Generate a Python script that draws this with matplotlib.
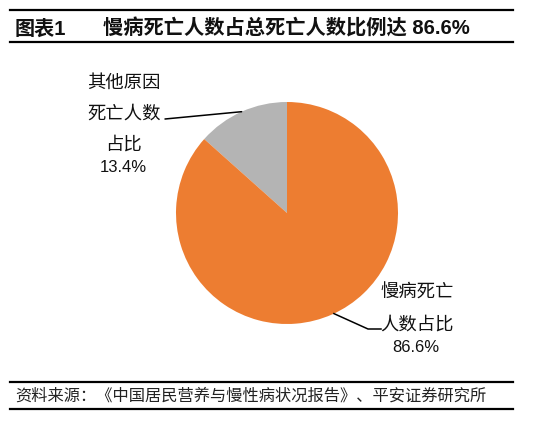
import matplotlib
matplotlib.use("Agg")
import matplotlib.pyplot as plt
from matplotlib.lines import Line2D
import numpy as np

plt.rcParams['font.family'] = ['Liberation Sans', 'Noto Sans CJK SC', 'DejaVu Sans']

categories = ["其他原因死亡人数占比", "慢病死亡人数占比"]
values = [13.4, 86.6]
colors = ["#B4B4B4", "#ED7D31"]
label_lines = [["其他原因", "死亡人数", "占比"], ["慢病死亡", "人数占比"]]
title_tag = "图表1"
title_text = "慢病死亡人数占总死亡人数比例达 86.6%"
source_text = "资料来源：《中国居民营养与慢性病状况报告》、平安证券研究所"

W, H = 554, 426
fig = plt.figure(figsize=(W / 100, H / 100), dpi=100)

def fx(x):
    return x / W

def fy(y):
    return 1 - y / H

# pie axes
cx, cy, r = 287, 213, 111
ax = fig.add_axes([fx(cx - r), fy(cy + r), 2 * r / W, 2 * r / H])
wedges, _ = ax.pie(values, colors=colors, startangle=90, counterclock=True,
                   radius=1, wedgeprops=dict(linewidth=0))
ax.set_xlim(-1, 1)
ax.set_ylim(-1, 1)
ax.set_aspect('auto')
ax.axis('off')

# header / footer rules
for y in (10, 42, 382, 409):
    fig.add_artist(Line2D([fx(10), fx(513)], [fy(y), fy(y)], color='black',
                          lw=1.6, transform=fig.transFigure))

fig.text(fx(15), fy(29), title_tag, fontsize=14.5, fontweight='bold',
         va='center', ha='left', color='#111111')
fig.text(fx(103), fy(29), title_text, fontsize=14.6, fontweight='bold',
         va='center', ha='left', color='#111111')
fig.text(fx(15), fy(396), source_text, fontsize=11.7, va='center', ha='left',
         color='#222222')

# labels
cnum = '#111111'
pct = [f"{v:.1f}%" for v in values]
left_y = [83, 114, 145]
for s, y in zip(label_lines[0], left_y):
    fig.text(fx(124), fy(y), s, fontsize=13.2, ha='center', va='center', color=cnum)
fig.text(fx(123), fy(168), pct[0], fontsize=12, ha='center', va='center', color=cnum)

right_y = [293, 325]
for s, y in zip(label_lines[1], right_y):
    fig.text(fx(417), fy(y), s, fontsize=13.2, ha='center', va='center', color=cnum)
fig.text(fx(416), fy(348), pct[1], fontsize=12, ha='center', va='center', color=cnum)

# leader lines
a0 = np.deg2rad(90 + values[0] / 100 * 360 / 2)
ax.annotate("", xy=(np.cos(a0), np.sin(a0)), xycoords='data',
            xytext=(fx(165), fy(119)), textcoords='figure fraction',
            arrowprops=dict(arrowstyle='-', color='black', lw=1.1,
                            shrinkA=0, shrinkB=0))
a1 = np.deg2rad(-65)
p1 = (np.cos(a1), np.sin(a1))
fig.add_artist(Line2D([fx(cx + r * p1[0]), fx(368), fx(381)],
                      [fy(cy - r * p1[1]), fy(329), fy(329)],
                      color='black', lw=1.1, transform=fig.transFigure))

fig.savefig("out.png", dpi=100)
